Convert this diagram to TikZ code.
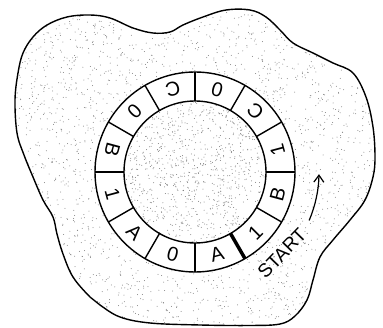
\documentclass[tikz,border=0pt]{standalone}
\usepackage{fontspec}
\setmainfont{Liberation Sans}
\usetikzlibrary{arrows.meta}

\begin{document}
\begin{tikzpicture}[x=1pt,y=1pt,
    ring/.style={line width=1.4pt},
    dot/.style={fill=black!50},
    lbl/.style={font=\fontsize{20}{20}\selectfont, inner sep=0pt}]
    \def\ro{100}\def\ri{71}\def\rm{85.5}
    \pgfmathsetseed{42}
    \useasboundingbox (0,0) rectangle (383,327);
    \coordinate (ctr) at (195,155);
    % outline of the blob
    \path[save path=\blobpath] plot[smooth cycle, tension=0.6] coordinates {
      (90,312) (110,309) (133,299) (153,294) (170,295) (183,302) (203,310)
      (226,317) (250,317) (266,310) (280,297) (293,284) (313,274) (333,264)
      (353,254) (366,230) (373,200) (375,170) (373,150) (365,127) (350,107)
      (333,87) (320,70) (313,47) (307,27) (295,11) (280,3) (250,1.5) (200,2)
      (150,4) (120,10) (100,22) (90,30) (73,50) (63,73) (57,93) (53,110)
      (43,127) (33,150) (24,172) (17,194) (15,227) (18,254) (23,274) (33,290)
      (47,302) (67,310)};
    % stipple
    \begin{scope}
      \clip[use path=\blobpath];
      \foreach \i in {1,...,3400} {\fill[dot] (383*rnd,327*rnd) circle (0.5);}
    \end{scope}
    \draw[line width=1.4pt, use path=\blobpath];
    \fill[white] (ctr) circle (\ro);
    \begin{scope}
      \clip (ctr) circle (\ri);
      \foreach \i in {1,...,1100} {\fill[dot] (124+142*rnd,84+142*rnd) circle (0.5);}
    \end{scope}
    % the ring
    \draw[ring] (ctr) circle (\ro) (ctr) circle (\ri);
    \foreach \a in {0,30,...,330} {\draw[ring, shift={(ctr)}] (\a:\ri) -- (\a:\ro);}
    \draw[line width=3.5pt, shift={(ctr)}] (-60:\ri) -- (-60:\ro);
    \node[lbl, rotate=165] (s1) at ([shift={(75:\rm)}]ctr) {0};
    \node[lbl, rotate=135] (s2) at ([shift={(45:\rm)}]ctr) {C};
    \node[lbl, rotate=105] (s3) at ([shift={(15:\rm)}]ctr) {1};
    \node[lbl, rotate=75] (s4) at ([shift={(-15:\rm)}]ctr) {B};
    \node[lbl, rotate=45] (s5) at ([shift={(-45:\rm)}]ctr) {1};
    \node[lbl, rotate=15] (s6) at ([shift={(-75:\rm)}]ctr) {A};
    \node[lbl, rotate=-15] (s7) at ([shift={(-105:\rm)}]ctr) {0};
    \node[lbl, rotate=-45] (s8) at ([shift={(-135:\rm)}]ctr) {A};
    \node[lbl, rotate=-75] (s9) at ([shift={(-165:\rm)}]ctr) {1};
    \node[lbl, rotate=-105] (s10) at ([shift={(165:\rm)}]ctr) {B};
    \node[lbl, rotate=-135] (s11) at ([shift={(135:\rm)}]ctr) {0};
    \node[lbl, rotate=-165] (s12) at ([shift={(105:\rm)}]ctr) {C};
    % start mark
    \node[font=\fontsize{19}{19}\selectfont, inner sep=0pt, rotate=46] (start) at ([shift={(-43:119)}]ctr) {START};
    \coordinate (arrtail) at ([shift={(-23:124)}]ctr);
    \draw[line width=1.2pt, -{Straight Barb[length=7pt,width=10pt]}] (arrtail) arc[start angle=-23, end angle=-1, radius=124];
\end{tikzpicture}
\end{document}
